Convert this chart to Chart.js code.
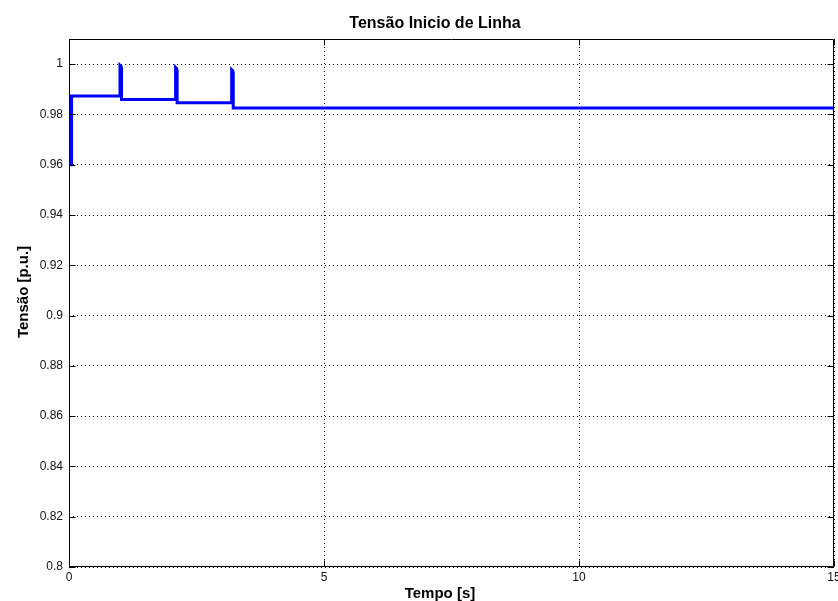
<!DOCTYPE html>
<html>
<head>
<meta charset="utf-8">
<title>Tensão Inicio de Linha</title>
<script src="https://cdn.jsdelivr.net/npm/chart.js@4/dist/chart.umd.min.js"></script>
<style>
    html, body { margin: 0; padding: 0; background: #fff; }
    #wrap { width: 838px; height: 601px; position: relative; }
</style>
</head>
<body>
<div id="wrap"><canvas id="tensaoChart"></canvas></div>
<script>
// tempo [s] e tensão [p.u.]
let tempo  = [0, 0.05, 0.05, 1.00, 1.00, 1.02, 1.03, 1.03, 2.09, 2.09, 2.11, 2.12, 2.12, 3.19, 3.19, 3.21, 3.22, 3.22, 15];
let tensao = [0.960, 0.960, 0.9873, 0.9873, 0.9995, 0.9991, 0.9982, 0.9859, 0.9859, 0.9987, 0.9983, 0.9974, 0.9846, 0.9846, 0.9978, 0.9974, 0.9966, 0.9826, 0.9826];

let xTicks = [0, 5, 10, 15];
let yTicks = [0.8, 0.82, 0.84, 0.86, 0.88, 0.9, 0.92, 0.94, 0.96, 0.98, 1];

let titulo = "Tensão Inicio de Linha";
let xTitulo = "Tempo [s]";
let yTitulo = "Tensão [p.u.]";

let fonte = "'Liberation Sans', Arial, sans-serif";

// caixa, marcas internas e textos estilo matlab
let matlabBox = {
    id: "matlabBox",
    afterDraw(chart) {
        let ctx = chart.ctx;
        let a = chart.chartArea;
        let sx = chart.scales.x, sy = chart.scales.y;
        let L = Math.round(a.left) + 0.5, R = Math.round(a.right) - 0.5;
        let T = Math.round(a.top) + 0.5, B = Math.round(a.bottom) - 0.5;
        ctx.save();
        ctx.strokeStyle = "#000";
        ctx.lineWidth = 1;
        ctx.beginPath();
        ctx.rect(L, T, R - L, B - T);
        xTicks.forEach(v => {
            let p = Math.round(sx.getPixelForValue(v)) + 0.5;
            ctx.moveTo(p, B); ctx.lineTo(p, B - 6);
            ctx.moveTo(p, T); ctx.lineTo(p, T + 6);
        });
        yTicks.forEach(v => {
            let p = Math.round(sy.getPixelForValue(v)) + 0.5;
            ctx.moveTo(L, p); ctx.lineTo(L + 6, p);
            ctx.moveTo(R, p); ctx.lineTo(R - 6, p);
        });
        ctx.stroke();

        ctx.fillStyle = "#000";
        ctx.textAlign = "center";
        ctx.textBaseline = "alphabetic";
        ctx.font = "bold 16px " + fonte;
        ctx.fillText(titulo, 435, 28);
        ctx.font = "bold 15px " + fonte;
        ctx.fillText(xTitulo, 440, 598);
        ctx.translate(28, 292);
        ctx.rotate(-Math.PI / 2);
        ctx.fillText(yTitulo, 0, 0);
        ctx.restore();
    }
};

let ctx = document.getElementById("tensaoChart").getContext("2d");

new Chart(ctx, {
    type: "line",
    data: {
        datasets: [{
            label: yTitulo,
            data: tempo.map((t, i) => ({ x: t, y: tensao[i] })),
            borderColor: "#0000ff",
            borderWidth: 3,
            pointRadius: 0,
            tension: 0,
            fill: false
        }]
    },
    options: {
        responsive: true,
        maintainAspectRatio: false,
        animation: false,
        layout: { padding: { left: 0, right: 4, top: 39, bottom: 0 } },
        plugins: {
            legend: { display: false },
            title: { display: false },
            tooltip: { enabled: false }
        },
        scales: {
            x: {
                type: "linear",
                min: 0,
                max: 15,
                afterBuildTicks: s => { s.ticks = xTicks.map(v => ({ value: v })); },
                afterFit: s => { s.height = 34; s.paddingLeft = 0; s.paddingRight = 0; },
                ticks: {
                    color: "#111",
                    padding: 3,
                    maxRotation: 0,
                    autoSkip: false,
                    font: { family: fonte, size: 12 }
                },
                grid: {
                    color: "#000",
                    lineWidth: 1,
                    drawTicks: false
                },
                border: { display: false, dash: [1, 3] }
            },
            y: {
                min: 0.8,
                max: 1.01,
                afterBuildTicks: s => { s.ticks = yTicks.map(v => ({ value: v })); },
                afterFit: s => { s.width = 69; s.paddingTop = 0; s.paddingBottom = 0; },
                ticks: {
                    color: "#111",
                    padding: 6,
                    autoSkip: false,
                    font: { family: fonte, size: 12 },
                    callback: v => String(Number(v.toFixed(2)))
                },
                grid: {
                    color: "#000",
                    lineWidth: 1,
                    drawTicks: false
                },
                border: { display: false, dash: [1, 3] }
            }
        }
    },
    plugins: [matlabBox]
});
</script>
</body>
</html>
